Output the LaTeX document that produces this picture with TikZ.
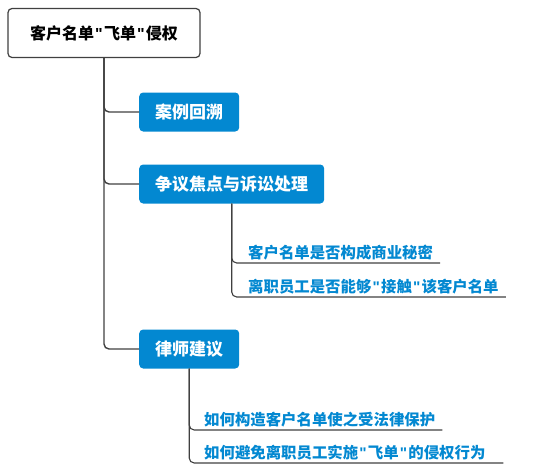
\documentclass[tikz,border=0pt]{standalone}
\usepackage{fontspec}
\setmainfont{Noto Sans CJK SC}
\newfontfamily\quotefont{Liberation Sans}
\newcommand\dq{\hspace{1.2pt}{\quotefont\bfseries\symbol{34}}\hspace{1.2pt}}
\usetikzlibrary{positioning}

\definecolor{topicblue}{RGB}{3,136,209}
\definecolor{linegray}{RGB}{64,64,64}

\tikzset{
  rootbox/.style={draw=linegray, line width=1.2pt, fill=white, rounded corners=4pt,
    minimum width=192pt, minimum height=49pt, font=\fontsize{16}{19}\selectfont\bfseries},
  topicbox/.style={fill=topicblue, text=white, rounded corners=4pt, inner xsep=16pt,
    minimum height=39pt, font=\fontsize{17}{20}\selectfont\bfseries},
  leaf/.style={text=topicblue, inner xsep=7pt, inner ysep=3pt,
    font=\fontsize{15.4}{18}\selectfont\bfseries},
  trunk/.style={draw=linegray, line width=1.4pt, rounded corners=5pt},
  twig/.style={draw=linegray, line width=1.1pt, rounded corners=5pt},
}

\begin{document}
\begin{tikzpicture}[x=1pt, y=-1pt]

% Fix the page size
\useasboundingbox (0,0) rectangle (541,474);

% Root topic
\node[rootbox] (root) at (104,33) {客户名单\dq 飞单\dq 侵权};

% Main branches
\node[topicbox, anchor=west] (case) at (139,112) {案例回溯};
\node[topicbox, anchor=west] (dispute) at (139,184) {争议焦点与诉讼处理};
\node[topicbox, anchor=west] (advice) at (139,349) {律师建议};

% Leaves under the dispute branch
\node[leaf, anchor=south west] (secret) at (241,263) {客户名单是否构成商业秘密};
\node[leaf, anchor=south west] (access) at (241,297) {离职员工是否能够\dq 接触\dq 该客户名单};

% Leaves under the advice branch
\node[leaf, anchor=south west] (protect) at (197,430) {如何构造客户名单使之受法律保护};
\node[leaf, anchor=south west, text width=292pt] (avoid) at (197,463) {如何避免离职员工实施\dq 飞单\dq 的侵权行为};

% Trunk from the root to each branch
\draw[trunk] (root.south) |- (case.west);
\draw[trunk] (root.south) |- (dispute.west);
\draw[trunk] (root.south) |- (advice.west);

% Twigs with underlines
\draw[twig] (dispute.south) |- (secret.south east);
\draw[twig] (dispute.south) |- (access.south east);
\draw[twig] (advice.south) |- (protect.south east);
\draw[twig] (advice.south) |- (avoid.south east);

\end{tikzpicture}
\end{document}
